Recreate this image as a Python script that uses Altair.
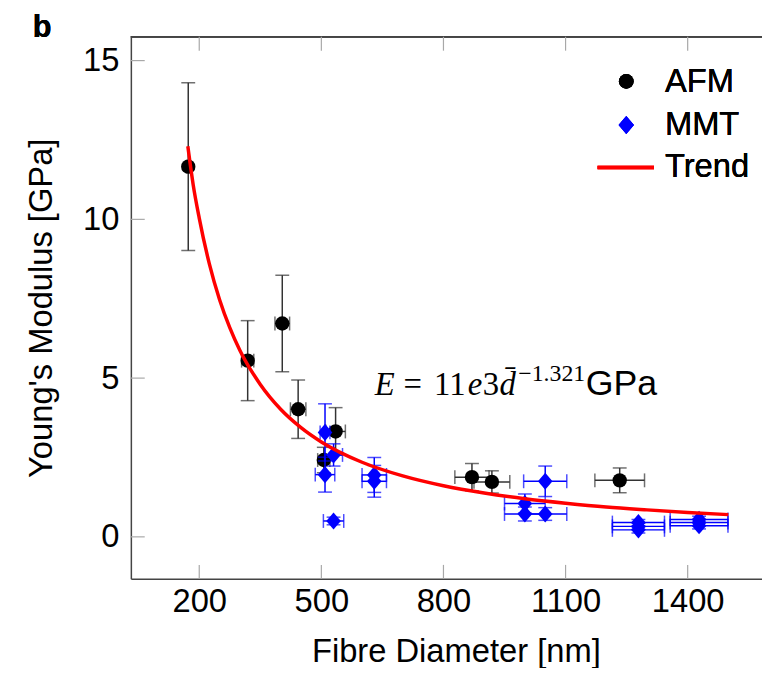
import altair as alt
import pandas as pd

# ---------------- data ----------------
afm_d = [173, 319, 404, 443, 506, 535, 870, 919, 1233]
afm_E = [11.66, 5.55, 6.72, 4.02, 2.42, 3.32, 1.88, 1.73, 1.78]
afm_Eerr = [2.64, 1.26, 1.52, 0.92, 0.40, 0.75, 0.43, 0.35, 0.39]
afm_derr = [4, 15, 18, 19, 15, 24, 42, 44, 61]

mmt_d = [509, 530, 509, 530, 630, 630, 1050, 1000, 1000, 1050, 1279, 1279, 1279, 1428, 1428, 1428]
mmt_E = [3.29, 2.58, 1.96, 0.50, 1.95, 1.75, 1.75, 1.05, 0.72, 0.72, 0.45, 0.33, 0.22, 0.55, 0.45, 0.35]
mmt_Eerr = [0.90, 0.35, 0.55, 0.12, 0.55, 0.50, 0.48, 0.30, 0.22, 0.20, 0.10, 0.10, 0.10, 0.10, 0.10, 0.10]
mmt_derr = [12, 22, 24, 25, 30, 30, 53, 50, 50, 53, 64, 64, 64, 71, 71, 71]

trend_d = [172, 185, 200, 225, 250, 275, 300, 350, 400, 450, 500, 600, 700, 800, 900, 1000, 1100, 1200, 1300, 1400, 1500]
trend_E = [12.3, 11.1, 10.04, 8.59, 7.47, 6.59, 5.87, 4.80, 4.02, 3.44, 2.99, 2.35, 1.92, 1.61, 1.38, 1.20, 1.06, 0.94, 0.85, 0.77, 0.70]

x_ticks = [200, 500, 800, 1100, 1400]
y_ticks = [0, 5, 10, 15]

legend_labels = ["AFM", "MMT", "Trend"]
eq_anchor_d = [631]
eq_anchor_E = [4.48]

# ---------------- layout ----------------
W, H = 637, 547
FONT = "Liberation Sans"
SERIF = "Liberation Serif"
AXC = "#444444"
TICKC = "#a8a8a8"

xscale = alt.Scale(domain=[32, 1582.6], nice=False, zero=False)
yscale = alt.Scale(domain=[-1.32, 15.75], nice=False, zero=False)

xaxis = alt.Axis(values=x_ticks, title="Fibre Diameter [nm]", ticks=False, grid=False,
                 domainColor=AXC, domainWidth=1.5, labelFont=FONT, labelFontSize=33,
                 labelColor="black", labelPadding=7, labelFlush=False, labelOverlap=False,
                 format="d", titleFont=FONT, titleFontSize=33, titleFontWeight="normal",
                 titleColor="black", titleX=328, titleY=74, titleBaseline="middle",
                 titleAlign="center")
yaxis = alt.Axis(values=y_ticks, title="Young's Modulus [GPa]", ticks=False, grid=False,
                 domainColor=AXC, domainWidth=1.5, labelFont=FONT, labelFontSize=33,
                 labelColor="black", labelPadding=12, labelOverlap=False, format="d",
                 titleFont=FONT, titleFontSize=33, titleFontWeight="normal",
                 titleColor="black", titleX=-90, titleY=H / 2, titleAngle=-90,
                 titleBaseline="middle", titleAlign="center")


def X(field):
    return alt.X(f"{field}:Q", scale=xscale, axis=xaxis)


def Y(field):
    return alt.Y(f"{field}:Q", scale=yscale, axis=yaxis)


afm = pd.DataFrame({"d": afm_d, "E": afm_E, "Eerr": afm_Eerr, "derr": afm_derr})
mmt = pd.DataFrame({"d": mmt_d, "E": mmt_E, "Eerr": mmt_Eerr, "derr": mmt_derr})
for df in (afm, mmt):
    df["lo"] = df["E"] - df["Eerr"]
    df["hi"] = df["E"] + df["Eerr"]
    df["dlo"] = df["d"] - df["derr"]
    df["dhi"] = df["d"] + df["derr"]
trend = pd.DataFrame({"d": trend_d, "E": trend_E})
xt = pd.DataFrame({"d": x_ticks})
yt = pd.DataFrame({"E": y_ticks})

# frame top and inner ticks
top_line = alt.Chart(xt).mark_rule(color=AXC, strokeWidth=1.5).encode(
    x=alt.value(0), x2=alt.value(W), y=alt.value(0))
xt_bot = alt.Chart(xt).mark_rule(color=TICKC, strokeWidth=1.2).encode(
    x=X("d"), y=alt.value(H), y2=alt.value(H - 14))
xt_top = alt.Chart(xt).mark_rule(color=TICKC, strokeWidth=1.2).encode(
    x=X("d"), y=alt.value(0), y2=alt.value(14))
yt_left = alt.Chart(yt).mark_rule(color=TICKC, strokeWidth=1.2).encode(
    y=Y("E"), x=alt.value(0), x2=alt.value(14))


def errorbars(df, color):
    base = alt.Chart(df)
    v = base.mark_rule(color=color, strokeWidth=1.5).encode(x=X("d"), y=Y("lo"), y2="hi")
    vcap_lo = base.mark_tick(color=color, orient="horizontal", size=14, thickness=1.5).encode(x=X("d"), y=Y("lo"))
    vcap_hi = base.mark_tick(color=color, orient="horizontal", size=14, thickness=1.5).encode(x=X("d"), y=Y("hi"))
    h = base.mark_rule(color=color, strokeWidth=1.5).encode(x=X("dlo"), x2="dhi", y=Y("E"))
    hcap_lo = base.mark_tick(color=color, orient="vertical", size=14, thickness=1.5).encode(x=X("dlo"), y=Y("E"))
    hcap_hi = base.mark_tick(color=color, orient="vertical", size=14, thickness=1.5).encode(x=X("dhi"), y=Y("E"))
    return [v, vcap_lo, vcap_hi, h, hcap_lo, hcap_hi]


DIAMOND = "M0,-1L0.85,0L0,1L-0.85,0Z"

afm_pts = alt.Chart(afm).mark_point(shape="circle", filled=True, color="black", opacity=1, size=210).encode(
    x=X("d"), y=Y("E"))
mmt_pts = alt.Chart(mmt).mark_point(shape=DIAMOND, filled=True, color="#0000ff", opacity=1, size=300).encode(
    x=X("d"), y=Y("E"))
trend_line = alt.Chart(trend).mark_line(color="#ff0000", strokeWidth=3.5, interpolate="monotone").encode(
    x=X("d"), y=Y("E"))

# equation annotation: E = 11e3 d̄^(−1.321) GPa
eq = pd.DataFrame({"d": eq_anchor_d, "E": eq_anchor_E})
pieces = [
    ("E", SERIF, "italic", 33, 0, 0),
    ("=", SERIF, "normal", 33, 29, 0),
    ("11", SERIF, "normal", 33, 60, 0),
    ("e", SERIF, "italic", 33, 94, 0),
    ("3", SERIF, "normal", 33, 109, 0),
    ("d\u0304", SERIF, "italic", 33, 126, 0),
    ("\u22121.321", SERIF, "normal", 24, 145, -14),
    ("GPa", FONT, "normal", 36, 213, 0),
]
eq_layers = []
for txt, fnt, sty, sz, dx, dy in pieces:
    eq_layers.append(alt.Chart(eq).mark_text(text=txt, font=fnt, fontStyle=sty, fontSize=sz,
                                            align="left", baseline="alphabetic", dx=dx, dy=dy,
                                            color="black").encode(x=X("d"), y=Y("E")))

# legend (inside, top right)
leg = pd.DataFrame({"label": legend_labels})
leg_afm = alt.Chart(leg).mark_point(shape="circle", filled=True, color="black", opacity=1, size=220).encode(
    x=alt.value(500), y=alt.value(45))
leg_mmt = alt.Chart(leg).mark_point(shape=DIAMOND, filled=True, color="#0000ff", opacity=1, size=330).encode(
    x=alt.value(500), y=alt.value(89))
leg_line = alt.Chart(leg).mark_rule(color="#ff0000", strokeWidth=3.5).encode(
    x=alt.value(471), x2=alt.value(528), y=alt.value(132))
leg_txt = []
for lab, yy in zip(legend_labels, [46, 89, 132]):
    leg_txt.append(alt.Chart(leg).mark_text(text=lab, font=FONT, fontSize=33, align="left",
                                            baseline="middle", color="black").encode(
        x=alt.value(539), y=alt.value(yy)))

panel = alt.Chart(leg).mark_text(text="b", font=FONT, fontSize=31, fontWeight="bold", align="left",
                                 baseline="alphabetic", color="black").encode(
    x=alt.value(-99), y=alt.value(0))

layers = [top_line, xt_bot, xt_top, yt_left]
layers += errorbars(afm, "#333333")
layers += [afm_pts]
layers += errorbars(mmt, "#0000ff")
layers += [mmt_pts, trend_line]
layers += eq_layers
layers += [leg_afm, leg_mmt, leg_line] + leg_txt + [panel]

chart = alt.layer(*layers).properties(
    width=W, height=H,
    padding={"left": 124, "top": 26, "right": 0, "bottom": 87},
    autosize=alt.AutoSizeParams(type="none"),
).configure_view(stroke=None)

chart.save("out.html", embed_options={"renderer": "svg", "actions": False})
